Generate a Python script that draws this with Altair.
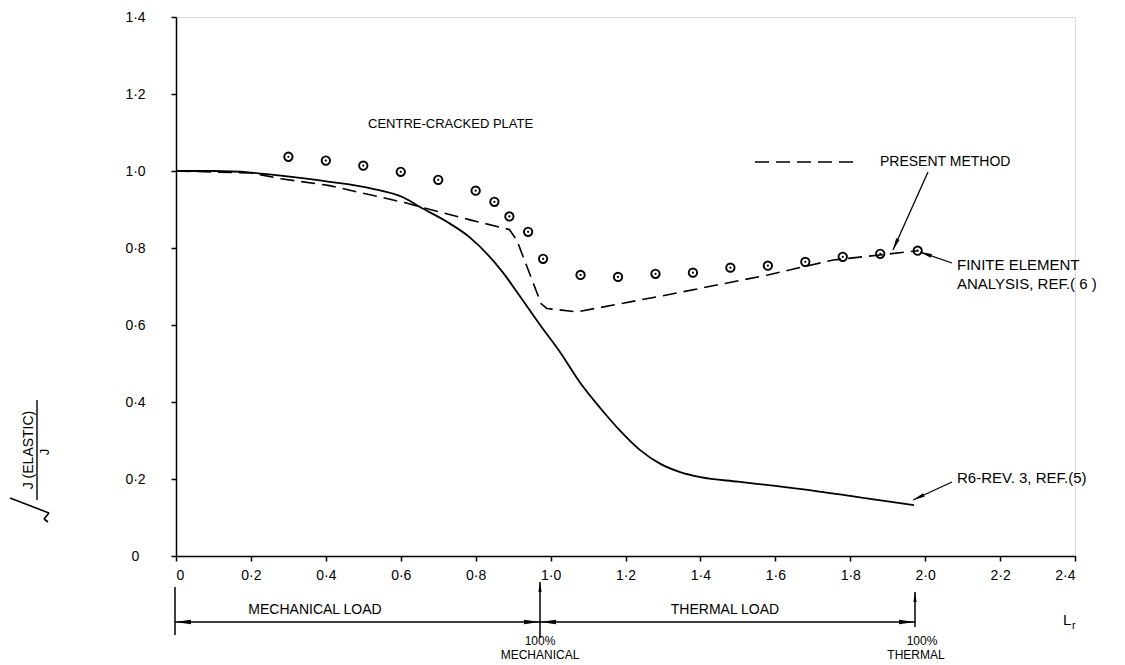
import math
import altair as alt
import pandas as pd

# ---------------- data ----------------
solid_x = [0.0, 0.1, 0.2, 0.28, 0.41, 0.52, 0.61, 0.65, 0.72, 0.785, 0.873, 0.92, 0.972,
           1.025, 1.079, 1.132, 1.186, 1.239, 1.292, 1.346, 1.40, 1.50, 1.60, 1.70, 1.80,
           1.90, 1.97]
solid_y = [1.0, 1.0, 0.996, 0.988, 0.972, 0.955, 0.93, 0.907, 0.87, 0.827, 0.736, 0.672, 0.60,
           0.53, 0.45, 0.385, 0.325, 0.275, 0.24, 0.218, 0.205, 0.193, 0.182, 0.17, 0.156,
           0.142, 0.132]

dash_x = [0.0, 0.2, 0.28, 0.41, 0.61, 0.65, 0.785, 0.89, 0.91, 0.975, 0.99, 1.07, 1.31,
          1.58, 1.755, 1.88, 1.98]
dash_y = [1.0, 0.995, 0.98, 0.962, 0.918, 0.907, 0.873, 0.848, 0.82, 0.655, 0.643, 0.634, 0.678,
          0.73, 0.769, 0.782, 0.793]

fe_x = [0.30, 0.40, 0.50, 0.60, 0.70, 0.80, 0.85, 0.89, 0.94, 0.98, 1.08, 1.18, 1.28, 1.38,
        1.48, 1.58, 1.68, 1.78, 1.88, 1.98]
fe_y = [1.037, 1.027, 1.014, 0.998, 0.977, 0.949, 0.92, 0.882, 0.842, 0.772, 0.730, 0.725,
        0.733, 0.736, 0.749, 0.754, 0.764, 0.777, 0.785, 0.793]

x_ticks = [0, 0.2, 0.4, 0.6, 0.8, 1.0, 1.2, 1.4, 1.6, 1.8, 2.0, 2.2, 2.4]
y_ticks = [0, 0.2, 0.4, 0.6, 0.8, 1.0, 1.2, 1.4]

# ---------------- styling ----------------
FONT = "Liberation Sans"
W, H = 899, 539
DASH = [14, 7]

solid_df = pd.DataFrame({"x": solid_x, "y": solid_y})
dash_df = pd.DataFrame({"x": dash_x, "y": dash_y})
fe_df = pd.DataFrame({"x": fe_x, "y": fe_y})

xs = alt.Scale(domain=[0, 2.4], nice=False, zero=False)
ys = alt.Scale(domain=[0, 1.4], nice=False, zero=False)
lab = "datum.value == 0 ? '0' : replace(format(datum.value, '.1f'), '.', '·')"

common_axis = dict(title=None, grid=False, tickSize=5, tickColor="black", tickWidth=1.5,
                   domainColor="black", domainWidth=1.5, labelFont=FONT, labelFontSize=14,
                   labelColor="black", labelExpr=lab)
xaxis = alt.Axis(values=x_ticks, labelPadding=7, **common_axis)
yaxis = alt.Axis(values=y_ticks, labelPadding=36, labelAlign="center", **common_axis)

X = alt.X("x:Q", scale=xs, axis=xaxis)
Y = alt.Y("y:Q", scale=ys, axis=yaxis)

solid = alt.Chart(solid_df).mark_line(color="black", strokeWidth=1.8,
                                      interpolate="monotone").encode(x=X, y=Y)
dashed = alt.Chart(dash_df).mark_line(color="black", strokeWidth=1.6, strokeDash=DASH,
                                      interpolate="linear").encode(x=X, y=Y)
fe_ring = alt.Chart(fe_df).mark_point(shape="circle", size=70, filled=False, color="black",
                                      strokeWidth=1.9, opacity=1).encode(x=X, y=Y)
fe_dot = alt.Chart(fe_df).mark_point(shape="circle", size=5, filled=True, color="black",
                                     opacity=1).encode(x=X, y=Y)

layers = [solid, dashed, fe_ring, fe_dot]
one = alt.Data(values=[{"a": 1}])


def seg(x1, y1, x2, y2, width=1.5, dash=None):
    kw = dict(color="black", strokeWidth=width)
    if dash:
        kw["strokeDash"] = dash
    return alt.Chart(one).mark_rule(**kw).encode(
        x=alt.value(x1), y=alt.value(y1), x2=alt.value(x2), y2=alt.value(y2))


ARROW = "M1,0L-1,-0.32L-1,0.32Z"
ARROW_LONG = "M1,0L-1,-0.28L-1,0.28Z"


def head(tx, ty, ang, half=6, shape=ARROW):
    a = math.radians(ang)
    cx = tx - math.cos(a) * half
    cy = ty - math.sin(a) * half
    return alt.Chart(one).mark_point(shape=shape, filled=True, color="black", opacity=1,
                                     size=(2 * half) ** 2, angle=ang % 360).encode(
        x=alt.value(cx), y=alt.value(cy))


def txt(s, x, y, align="left", size=14, angle=0, baseline="middle"):
    kw = dict(text=s, font=FONT, fontSize=size, color="black", align=align, baseline=baseline)
    if angle:
        kw["angle"] = angle
    return alt.Chart(one).mark_text(**kw).encode(x=alt.value(x), y=alt.value(y))


# in-plot annotations
layers += [
    txt("CENTRE-CRACKED PLATE", 192, 107, size=13),
    seg(579, 145, 684, 145, width=1.6, dash=DASH),
    txt("PRESENT METHOD", 704, 145),
    seg(752, 155, 717, 233, width=1.3), head(717, 233, 114, half=6),
    txt("FINITE ELEMENT", 781, 248, size=15),
    txt("ANALYSIS, REF.( 6 )", 781, 267, size=15),
    seg(776, 246, 744, 235, width=1.3), head(744, 235, 199, half=6),
    txt("R6-REV. 3, REF.(5)", 781, 461, size=15),
    seg(776, 465, 737, 483, width=1.3), head(737, 483, 155, half=6),
]

# load bar below the axis
layers += [
    seg(-1, 605, 739, 605, width=1.5),
    seg(-1, 570, -1, 618, width=1.5),
    seg(364, 565, 364, 621, width=1.5),
    seg(739, 575, 739, 610, width=1.5),
    head(-1, 605, 180, half=8, shape=ARROW_LONG),
    head(364, 605, 0, half=8, shape=ARROW_LONG),
    head(364, 605, 180, half=8, shape=ARROW_LONG),
    head(739, 605, 0, half=8, shape=ARROW_LONG),
    head(364, 565, 270, half=5),
    head(739, 575, 270, half=5),
    txt("MECHANICAL LOAD", 139, 593, align="center"),
    txt("THERMAL LOAD", 549, 593, align="center"),
    txt("100%", 364, 624, align="center", size=12),
    txt("MECHANICAL", 364, 638, align="center", size=12),
    txt("100%", 746, 624, align="center", size=12),
    txt("THERMAL", 740, 638, align="center", size=12),
    txt("L", 887, 603, size=15),
    txt("r", 896, 609, size=11),
]

# y-axis title: sqrt( J(ELASTIC) / J ) drawn rotated
layers += [
    txt("J (ELASTIC)", -147, 433, align="center", size=14, angle=270),
    seg(-139, 383, -139, 483, width=1.4),
    txt("J", -131, 435, align="center", size=13, angle=270),
    seg(-166, 481, -127, 496, width=1.6),
    seg(-127, 496, -132, 502, width=1.6),
    seg(-132, 502, -128, 505, width=1.6),
]

chart = alt.layer(*layers).properties(
    width=W, height=H,
    autosize=alt.AutoSizeParams(type="none"),
    padding={"left": 168, "top": 9, "right": 40, "bottom": 109},
).configure_view(stroke=None).configure(background="white")

chart.save("out.html", embed_options={"renderer": "svg", "actions": False})
